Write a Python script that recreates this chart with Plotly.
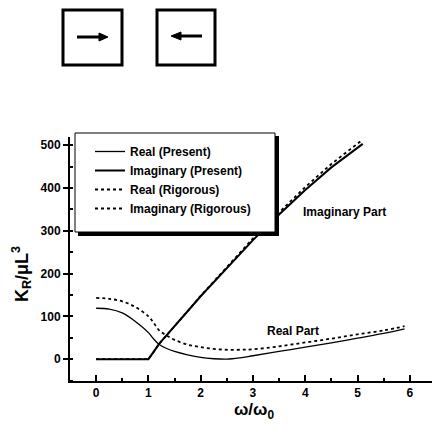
import plotly.graph_objects as go

# ---- data ----
x_real = [0, 0.25, 0.5, 0.75, 1.0, 1.1, 1.2, 1.35, 1.5, 1.75, 2.0, 2.25, 2.5, 2.75,
          3.0, 3.5, 4.0, 4.5, 5.0, 5.5, 5.9]
real_present = [119, 117, 108, 88, 62, 47, 35, 25, 18, 10, 4, 1, 0, 3,
                8, 18, 28, 38, 49, 60, 71]
real_rigorous = [143, 141, 135, 122, 100, 85, 68, 55, 45, 34, 28, 24, 22, 22,
                 23, 30, 39, 48, 58, 67, 77]

x_imag = [0, 0.5, 1.0, 1.1, 1.2, 1.35, 1.5, 1.75, 2.0, 2.25, 2.5, 2.75, 3.0,
          3.5, 4.0, 4.5, 5.0, 5.1]
imag_present = [0, 0, 0, 17, 35, 56, 78, 112, 147, 180, 213, 246, 278,
                338, 395, 448, 495, 503]
imag_rigorous = [0, 0, 0, 17, 35, 56, 78, 112, 148, 182, 215, 249, 282,
                 343, 402, 456, 504, 513]

series_names = ["Real (Present)", "Imaginary (Present)", "Real (Rigorous)", "Imaginary (Rigorous)"]
x_ticks = [0, 1, 2, 3, 4, 5, 6]
y_ticks = [0, 100, 200, 300, 400, 500]

FONT = "Liberation Sans"
OFF = 8  # browser body margin
W, H = 440 - OFF, 427 - OFF
ML, MR, MT, MB = 62, 2, 129, 46
PW, PH = W - ML - MR, H - MT - MB


def px(xp):
    """page pixel x -> paper"""
    return (xp - OFF - ML) / PW


def py(yp):
    """page pixel y -> paper"""
    return (H - MB - (yp - OFF)) / PH


fig = go.Figure()
fig.add_trace(go.Scatter(x=x_real, y=real_present, mode="lines", name=f"<b>{series_names[0]}</b>",
                         line=dict(color="black", width=1.3, shape="spline")))
fig.add_trace(go.Scatter(x=x_imag, y=imag_present, mode="lines", name=f"<b>{series_names[1]}</b>",
                         line=dict(color="black", width=2)))
fig.add_trace(go.Scatter(x=x_real, y=real_rigorous, mode="lines", name=f"<b>{series_names[2]}</b>",
                         line=dict(color="black", width=1.8, dash="dot", shape="spline")))
fig.add_trace(go.Scatter(x=x_imag, y=imag_rigorous, mode="lines", name=f"<b>{series_names[3]}</b>",
                         line=dict(color="black", width=1.8, dash="dot")))

shapes = []
# legend box with shadow
shapes.append(dict(type="rect", xref="paper", yref="paper",
                   x0=px(78), x1=px(279), y0=py(236), y1=py(136),
                   fillcolor="black", line=dict(width=0), layer="above"))
shapes.append(dict(type="rect", xref="paper", yref="paper",
                   x0=px(75), x1=px(275), y0=py(232), y1=py(133),
                   fillcolor="white", line=dict(color="black", width=1), layer="above"))
# top decorative boxes with arrows
for (a, b) in [(63, 122), (157, 215)]:
    shapes.append(dict(type="rect", xref="paper", yref="paper",
                       x0=px(a), x1=px(b), y0=py(65), y1=py(10),
                       line=dict(color="black", width=3), fillcolor="rgba(0,0,0,0)"))
# right arrow
shapes.append(dict(type="line", xref="paper", yref="paper",
                   x0=px(77), x1=px(101), y0=py(37), y1=py(37),
                   line=dict(color="black", width=3)))
shapes.append(dict(type="path", xref="paper", yref="paper",
                   path=f"M {px(99)},{py(33)} L {px(108)},{py(37)} L {px(99)},{py(41)} Z",
                   fillcolor="black", line=dict(color="black", width=1)))
# left arrow
shapes.append(dict(type="line", xref="paper", yref="paper",
                   x0=px(179), x1=px(202), y0=py(36), y1=py(36),
                   line=dict(color="black", width=3)))
shapes.append(dict(type="path", xref="paper", yref="paper",
                   path=f"M {px(181)},{py(32)} L {px(171)},{py(36)} L {px(181)},{py(40)} Z",
                   fillcolor="black", line=dict(color="black", width=1)))

annotations = [
    dict(x=4.75, y=343, xref="x", yref="y", text="<b>Imaginary Part</b>", showarrow=False,
         font=dict(family=FONT, size=12, color="black")),
    dict(x=3.76, y=66, xref="x", yref="y", text="<b>Real Part</b>", showarrow=False,
         font=dict(family=FONT, size=12, color="black")),
    # y-axis title (placed as in the reference, below plot centre)
    dict(x=px(21), y=py(274), xref="paper", yref="paper", textangle=-90,
         text="<b>K<sub>R</sub>/μL<sup>3</sup></b>", showarrow=False,
         xanchor="center", yanchor="middle",
         font=dict(family=FONT, size=18, color="black")),
]

fig.update_layout(
    width=W, height=H,
    margin=dict(l=ML, r=MR, t=MT, b=MB),
    paper_bgcolor="white", plot_bgcolor="white",
    font=dict(family=FONT, color="black"),
    shapes=shapes, annotations=annotations,
    showlegend=True,
    legend=dict(x=px(90), y=py(137), xanchor="left", yanchor="top",
                bgcolor="rgba(0,0,0,0)", borderwidth=0,
                font=dict(family=FONT, size=12, color="black"),
                tracegroupgap=0, itemwidth=30),
    xaxis=dict(range=[-0.5, 6.54], tickvals=x_ticks,
               ticktext=[f"<b>{v}</b>" for v in x_ticks],
               showline=True, linecolor="black", linewidth=2, mirror=False,
               ticks="inside", ticklen=6, tickwidth=2, tickcolor="black",
               minor=dict(dtick=0.5, tick0=0, ticks="inside", ticklen=3, tickwidth=1.5, tickcolor="black"),
               showgrid=False, zeroline=False,
               tickfont=dict(family=FONT, size=12),
               title=dict(text="<b>ω/ω<sub>0</sub></b>", font=dict(family=FONT, size=17), standoff=2)),
    yaxis=dict(range=[-51, 519], tickvals=y_ticks,
               ticktext=[f"<b>{v}</b>" for v in y_ticks],
               showline=True, linecolor="black", linewidth=2, mirror=False,
               ticks="outside", ticklen=5, tickwidth=2, tickcolor="black",
               minor=dict(dtick=50, tick0=0, ticks="inside", ticklen=3, tickwidth=1.5, tickcolor="black"),
               showgrid=False, zeroline=False,
               tickfont=dict(family=FONT, size=12)),
)

fig.write_html("out.html")
